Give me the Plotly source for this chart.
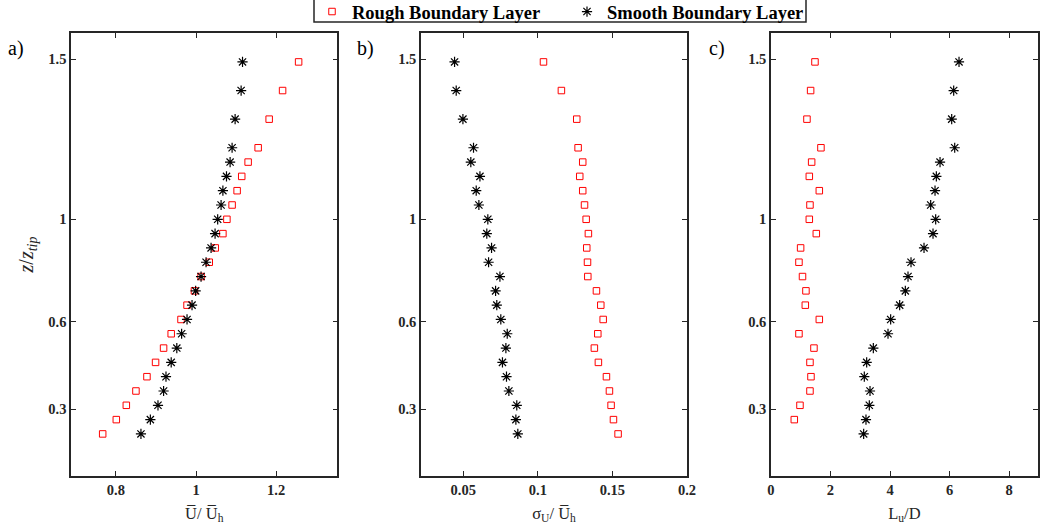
import plotly.graph_objects as go

# Measurement levels on the plotted (index) scale, top to bottom
z_level = [26, 24, 22, 20, 19, 18, 17, 16, 15, 14, 13, 12, 11, 10, 9, 8, 7, 6, 5, 4, 3, 2, 1, 0]
z_tick_pos = [1.73, 7.83, 15.0, 26.2]
z_tick_text = ["0.3", "0.6", "1", "1.5"]

# Panel a: mean velocity U/Uh
u_rough = [1.256, 1.216, 1.1825, 1.155, 1.13, 1.114, 1.1025, 1.09, 1.077, 1.067, 1.048, 1.033,
           1.0125, 0.996, 0.9775, 0.9625, 0.938, 0.919, 0.899, 0.8775, 0.85, 0.826, 0.801, 0.767]
u_smooth = [1.116, 1.1125, 1.0975, 1.09, 1.085, 1.076, 1.067, 1.0625, 1.054, 1.0475, 1.0375, 1.025,
            1.0125, 0.999, 0.99, 0.9775, 0.964, 0.952, 0.938, 0.925, 0.919, 0.905, 0.886, 0.8625]

# Panel b: sigma_U / Uh
s_rough = [0.1038, 0.1158, 0.1261, 0.127, 0.1301, 0.1281, 0.1301, 0.1313, 0.1324, 0.1339, 0.1328, 0.1333,
           0.1335, 0.1393, 0.1422, 0.1438, 0.1402, 0.1379, 0.1406, 0.146, 0.148, 0.1491, 0.1507, 0.1538]
s_smooth = [0.0442, 0.0453, 0.0498, 0.0569, 0.0551, 0.0612, 0.0587, 0.0605, 0.0665, 0.0658, 0.069, 0.067,
            0.0746, 0.0717, 0.0725, 0.0752, 0.0795, 0.0786, 0.0763, 0.079, 0.0806, 0.0859, 0.0853, 0.0866]

# Panel c: Lu / D
l_rough = [1.479, 1.333, 1.21, 1.68, 1.367, 1.289, 1.625, 1.311, 1.289, 1.524, 0.997, 0.941,
           1.06, 1.176, 1.154, 1.625, 0.941, 1.445, 1.311, 1.345, 1.311, 0.975, 0.784, None]
l_smooth = [6.319, 6.14, 6.073, 6.174, 5.681, 5.557, 5.513, 5.367, 5.535, 5.445, 5.143, 4.706,
            4.605, 4.515, 4.325, 4.022, 3.933, 3.44, 3.216, 3.137, 3.328, 3.305, 3.193, 3.115]

series_names = ["Rough Boundary Layer", "Smooth Boundary Layer"]
panel_labels = ["a)", "b)", "c)"]

x_ticks = [[0.8, 1, 1.2], [0.05, 0.1, 0.15, 0.2], [0, 2, 4, 6, 8]]
x_tick_text = [["0.8", "1", "1.2"], ["0.05", "0.1", "0.15", "0.2"], ["0", "2", "4", "6", "8"]]
x_titles = ["U\u0305/ U\u0305<sub>h</sub>", "σ<sub>U</sub>/ U\u0305<sub>h</sub>", "L<sub>u</sub>/D"]
x_ranges = [[0.688, 1.353], [0.0217, 0.2], [0, 8.97]]
x_domains = [[0.0683, 0.3245], [0.4048, 0.6606], [0.7413, 0.998]]

red = "#ff0000"
rough_style = dict(symbol="square-open", size=6.5, color=red, line=dict(color=red, width=1))
smooth_style = dict(symbol="asterisk-open", size=8.5, color="black", line=dict(color="black", width=1.2))

fig = go.Figure()
data = [(u_rough, u_smooth), (s_rough, s_smooth), (l_rough, l_smooth)]
for i, (r, s) in enumerate(data):
    ax = "" if i == 0 else str(i + 1)
    fig.add_trace(go.Scatter(x=r, y=z_level, mode="markers", marker=rough_style,
                             name="<b>" + series_names[0] + "</b>", showlegend=(i == 0),
                             xaxis="x" + ax, yaxis="y" + ax))
    fig.add_trace(go.Scatter(x=s, y=z_level, mode="markers", marker=smooth_style,
                             name="<b>" + series_names[1] + "</b>", showlegend=(i == 0),
                             xaxis="x" + ax, yaxis="y" + ax))

axis_common = dict(showline=True, linecolor="#262626", linewidth=1.5, mirror="allticks",
                   ticks="inside", ticklen=5, tickwidth=1.2, tickcolor="#262626",
                   showgrid=False, zeroline=False,
                   tickfont=dict(family="Liberation Serif", size=14.5, color="#262626"))

layout = dict(
    width=1040, height=530, margin=dict(l=0, r=0, t=0, b=0, autoexpand=False),
    paper_bgcolor="white", plot_bgcolor="white",
    font=dict(family="Liberation Serif", color="#262626"),
    legend=dict(orientation="h", x=312 / 1040, xanchor="left",
                y=1 + 7 / 530, yanchor="top",
                borderwidth=0, bgcolor="rgba(0,0,0,0)",
                font=dict(family="Liberation Serif", size=18.5, color="black"),
                itemwidth=30, entrywidth=210, entrywidthmode="pixels"),
)
for i in range(3):
    ax = "" if i == 0 else str(i + 1)
    layout["xaxis" + ax] = dict(axis_common, domain=x_domains[i], range=x_ranges[i],
                                anchor="y" + ax, tickvals=x_ticks[i],
                                ticktext=["<b>" + t + "</b>" for t in x_tick_text[i]],
                                title=dict(text=x_titles[i], standoff=10,
                                           font=dict(family="Liberation Serif", size=16.5, color="#262626")))
    ydict = dict(axis_common, domain=[0.1019, 0.9377], range=[-2.94, 28.02],
                 anchor="x" + ax, tickvals=z_tick_pos,
                 ticktext=["<b>" + t + "</b>" for t in z_tick_text])
    if i == 0:
        ydict["title"] = dict(text="<i>z</i>/<i>z<sub>tip</sub></i>", standoff=9,
                              font=dict(family="Liberation Serif", size=20, color="#262626"))
    layout["yaxis" + ax] = ydict

fig.update_layout(**layout)

# legend frame (clipped at the top edge as in the reference)
fig.add_shape(type="rect", xref="paper", yref="paper",
              x0=314 / 1040, x1=806 / 1040, y0=1 - 22 / 530, y1=1.01,
              line=dict(color="#262626", width=1.5), fillcolor="rgba(0,0,0,0)", layer="above")

label_x = [8 / 1040, 357 / 1040, 709 / 1040]
for lx, txt in zip(label_x, panel_labels):
    fig.add_annotation(x=lx, y=1 - 49 / 530, xref="paper", yref="paper", text=txt, showarrow=False,
                       xanchor="left", yanchor="middle", xshift=-2,
                       font=dict(family="Liberation Serif", size=20, color="black"))

fig.write_html("out.html")
